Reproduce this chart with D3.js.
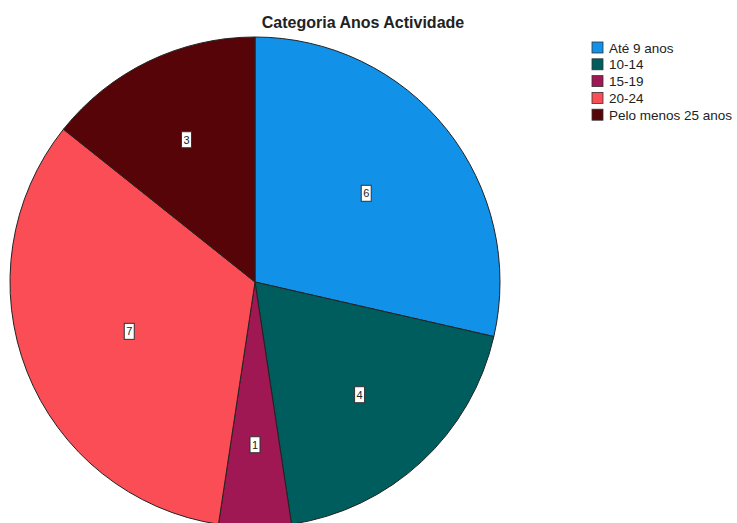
<!DOCTYPE html>
<meta charset="utf-8">
<script src="https://d3js.org/d3.v7.min.js"></script>
<style>
body { margin: 0; background: #fff; }
text { font-family: "Liberation Sans", Arial, sans-serif; }
</style>
<div id="chart"></div>
<script>
// categories and counts
var categories = ["Até 9 anos", "10-14", "15-19", "20-24", "Pelo menos 25 anos"];
var counts = [6, 4, 1, 7, 3];
var colors = ["#1192e8", "#005d5d", "#9f1853", "#fa4d56", "#570408"];

var width = 737, height = 523;
var cx = 255, cy = 282, radius = 245;

var svg = d3.select("#chart")
  .append("svg")
  .attr("width", width)
  .attr("height", height);

// title
svg.append("text")
  .attr("x", 363)
  .attr("y", 28)
  .attr("text-anchor", "middle")
  .style("font-size", "16px")
  .style("font-weight", "bold")
  .style("fill", "#222")
  .text("Categoria Anos Actividade");

var pie = d3.pie().sort(null).value(function(d) { return d; });
var arcs = pie(counts);

var arc = d3.arc().innerRadius(0).outerRadius(radius);

var g = svg.append("g")
  .attr("transform", "translate(" + cx + "," + cy + ")");

g.selectAll("path")
  .data(arcs)
  .enter()
  .append("path")
  .attr("d", arc)
  .attr("fill", function(d, i) { return colors[i]; })
  .attr("stroke", "#222")
  .attr("stroke-width", 1);

// labels near the centroid of each sector
var labels = g.selectAll("g.lbl")
  .data(arcs)
  .enter()
  .append("g")
  .attr("class", "lbl")
  .attr("transform", function(d) {
    var half = (d.endAngle - d.startAngle) / 2;
    var mid = d.startAngle + half;
    var dist = 2 * radius * Math.sin(half) / (3 * half);
    return "translate(" + (dist * Math.sin(mid)) + "," + (-dist * Math.cos(mid)) + ")";
  });

labels.append("rect")
  .attr("x", -5)
  .attr("y", -8)
  .attr("width", 10)
  .attr("height", 16)
  .attr("fill", "#fff")
  .attr("stroke", "#333")
  .attr("stroke-width", 1);

labels.append("text")
  .attr("text-anchor", "middle")
  .attr("dy", "0.35em")
  .style("font-size", "11px")
  .style("fill", "#222")
  .text(function(d) { return d.data; });

// legend
var legend = svg.append("g")
  .attr("transform", "translate(592,42)");

var rows = legend.selectAll("g")
  .data(categories)
  .enter()
  .append("g")
  .attr("transform", function(d, i) { return "translate(0," + (i * 16.8) + ")"; });

rows.append("rect")
  .attr("width", 11)
  .attr("height", 11)
  .attr("fill", function(d, i) { return colors[i]; })
  .attr("stroke", "#333")
  .attr("stroke-width", 0.8);

rows.append("text")
  .attr("x", 17)
  .attr("y", 10.5)
  .style("font-size", "13.5px")
  .style("fill", "#222")
  .text(function(d) { return d; });
</script>
